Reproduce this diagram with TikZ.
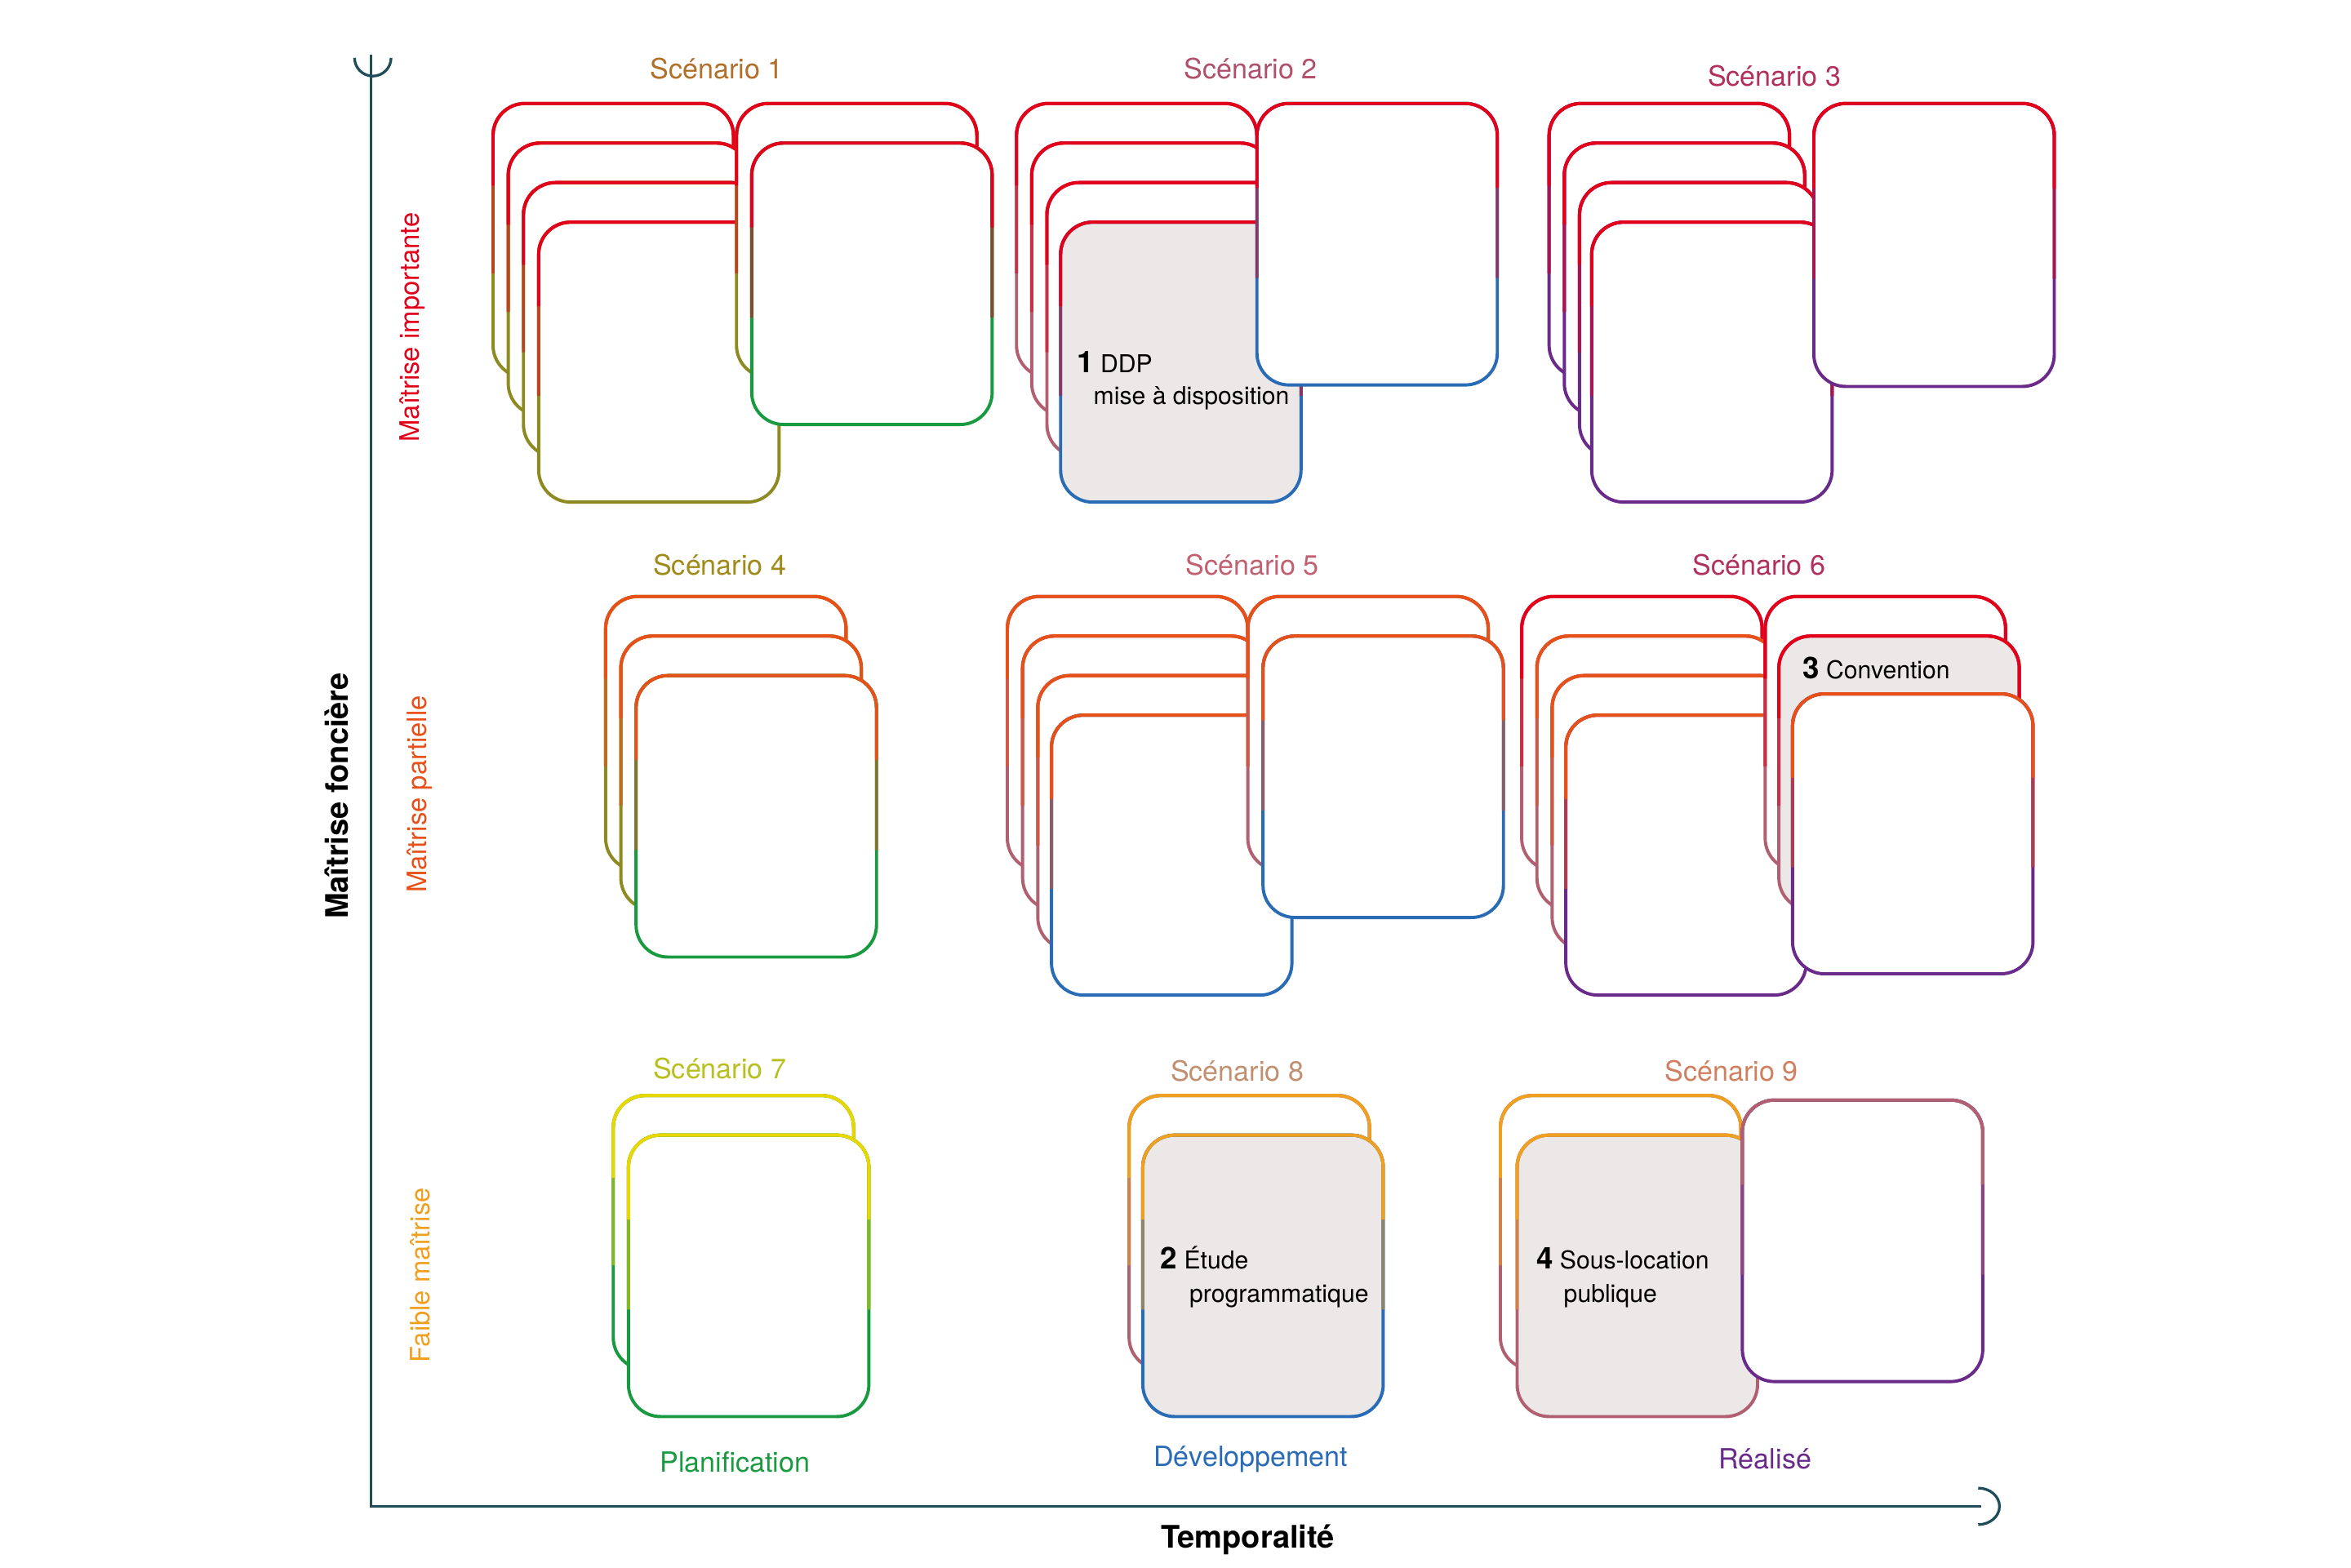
\documentclass[tikz,border=0pt]{standalone}
\usepackage{fontspec}
\setmainfont{TeX Gyre Heros}
\definecolor{red1}{HTML}{E2001A}
\definecolor{ora}{HTML}{E8501A}
\definecolor{oli}{HTML}{8C8A20}
\definecolor{grn}{HTML}{1A9A40}
\definecolor{blu}{HTML}{2A6BB5}
\definecolor{pur}{HTML}{6A2A8A}
\definecolor{mau}{HTML}{B06070}
\definecolor{yel}{HTML}{E8D800}
\definecolor{amb}{HTML}{F0A020}
\definecolor{gry}{HTML}{ECE8E7}
\definecolor{axis}{HTML}{1F4E5A}
\tikzset{cardline/.style={line width=0.6pt,rounded corners=0.21cm}}
\newcommand\crd[7]{%
 \filldraw[#7,draw=#6,cardline] (#1,#2) rectangle (#3,#4);
 \draw[cardline,draw=#5!50!#6] (#1,{#2+0.62*(#4-#2)}) -- (#1,#2) -- (#3,#2) -- (#3,{#2+0.62*(#4-#2)});
 \draw[cardline,draw=#5] (#1,{#2+0.3*(#4-#2)}) -- (#1,#2) -- (#3,#2) -- (#3,{#2+0.3*(#4-#2)});
}
\tikzset{
 scen/.style={font=\fontsize{5.2}{6}\selectfont},
 cardtxt/.style={font=\fontsize{4.6}{5.5}\selectfont,anchor=base west,inner sep=0},
 row/.style={font=\fontsize{5}{6}\selectfont,rotate=90},
 ax/.style={font=\bfseries\fontsize{5.8}{7}\selectfont}
}
\begin{document}
\begin{tikzpicture}[x=0.01cm,y=-0.01cm]
\useasboundingbox (0,0) rectangle (1545,1030);
% axes
\draw[axis,line width=0.5pt] (244,36) -- (244,990) -- (1302,990);
\draw[axis,line width=0.5pt] (233,38) arc[start angle=180,end angle=0,radius=12];
\draw[axis,line width=0.5pt] (1300,978) arc[start angle=90,end angle=-90,x radius=14,y radius=-12];
\node[ax,rotate=90] (yl) at (221,523) {Maîtrise foncière};
\node[ax] (xl) at (820,1012) {Temporalité};
\node[row,text=red1] (r1) at (271,215) {Maîtrise importante};
\node[row,text=ora] (r2) at (276,522) {Maîtrise partielle};
\node[row,text=amb] (r3) at (276,838) {Faible maîtrise};
\node[scen,text=grn] (c1) at (483,961) {Planification};
\node[scen,text=blu] (c2) at (822,959) {Développement};
\node[scen,text=pur] (c3) at (1160,959) {Réalisé};
% scenario 1
\node[scen,text={rgb,255:red,176;green,112;blue,42}] (s1) at (471,45) {Scénario 1};
\crd{324}{68}{482}{248}{red1}{oli}{white}
\crd{334}{94}{492}{273}{red1}{oli}{white}
\crd{344}{120}{502}{300}{red1}{oli}{white}
\crd{354}{146}{512}{330}{red1}{oli}{white}
\crd{484}{68}{642}{248}{red1}{oli}{white}
\crd{494}{94}{652}{279}{red1}{grn}{white}
% scenario 2
\node[scen,text={rgb,255:red,176;green,80;blue,106}] (s2) at (822,45) {Scénario 2};
\crd{668}{68}{826}{248}{red1}{mau}{white}
\crd{678}{94}{836}{273}{red1}{mau}{white}
\crd{688}{120}{846}{300}{red1}{mau}{white}
\crd{697}{146}{855}{330}{red1}{blu}{gry}
\crd{826}{68}{984}{253}{red1}{blu}{white}
\node[cardtxt] (t1) at (707,245) {\textbf{\fontsize{5.6}{6}\selectfont 1} DDP};
\node[cardtxt] (t1b) at (718,266) {mise à disposition};
% scenario 3
\node[scen,text={rgb,255:red,176;green,48;blue,90}] (s3) at (1166,50) {Scénario 3};
\crd{1018}{68}{1176}{248}{red1}{pur}{white}
\crd{1028}{94}{1186}{273}{red1}{pur}{white}
\crd{1038}{120}{1195}{300}{red1}{pur}{white}
\crd{1046}{146}{1204}{330}{red1}{pur}{white}
\crd{1192}{68}{1350}{254}{red1}{pur}{white}
% scenario 4
\node[scen,text={rgb,255:red,160;green,138;blue,26}] (s4) at (473,371) {Scénario 4};
\crd{398}{392}{556}{572}{ora}{oli}{white}
\crd{408}{418}{566}{598}{ora}{oli}{white}
\crd{418}{444}{576}{629}{ora}{grn}{white}
% scenario 5
\node[scen,text={rgb,255:red,192;green,96;blue,112}] (s5) at (823,371) {Scénario 5};
\crd{662}{392}{820}{572}{ora}{mau}{white}
\crd{672}{418}{830}{598}{ora}{mau}{white}
\crd{682}{444}{840}{624}{ora}{mau}{white}
\crd{691}{470}{849}{654}{ora}{blu}{white}
\crd{820}{392}{978}{572}{ora}{mau}{white}
\crd{830}{418}{988}{603}{ora}{blu}{white}
% scenario 6
\node[scen,text={rgb,255:red,176;green,48;blue,96}] (s6) at (1156,371) {Scénario 6};
\crd{1000}{392}{1158}{572}{red1}{mau}{white}
\crd{1010}{418}{1168}{598}{ora}{mau}{white}
\crd{1020}{444}{1178}{624}{ora}{mau}{white}
\crd{1029}{470}{1187}{654}{ora}{pur}{white}
\crd{1160}{392}{1318}{572}{red1}{mau}{white}
\crd{1169}{418}{1327}{598}{red1}{mau}{gry}
\crd{1178}{456}{1336}{640}{ora}{pur}{white}
\node[cardtxt] (t3) at (1184,446) {\textbf{\fontsize{5.6}{6}\selectfont 3} Convention};
% scenario 7
\node[scen,text={rgb,255:red,184;green,192;blue,32}] (s7) at (473,702) {Scénario 7};
\crd{403}{720}{561}{900}{yel}{grn}{white}
\crd{413}{746}{571}{931}{yel}{grn}{white}
% scenario 8
\node[scen,text={rgb,255:red,192;green,144;blue,112}] (s8) at (813,704) {Scénario 8};
\crd{742}{720}{900}{900}{amb}{mau}{white}
\crd{751}{746}{909}{931}{amb}{blu}{gry}
\node[cardtxt] (t2) at (762,834) {\textbf{\fontsize{5.6}{6}\selectfont 2} Étude};
\node[cardtxt] (t2b) at (781,856) {programmatique};
% scenario 9
\node[scen,text={rgb,255:red,208;green,128;blue,96}] (s9) at (1138,704) {Scénario 9};
\crd{986}{720}{1144}{900}{amb}{mau}{white}
\crd{997}{746}{1155}{931}{amb}{mau}{gry}
\crd{1145}{723}{1303}{908}{mau}{pur}{white}
\node[cardtxt] (t4) at (1009,834) {\textbf{\fontsize{5.6}{6}\selectfont 4} Sous-location};
\node[cardtxt] (t4b) at (1027,856) {publique};
\end{tikzpicture}
\end{document}
